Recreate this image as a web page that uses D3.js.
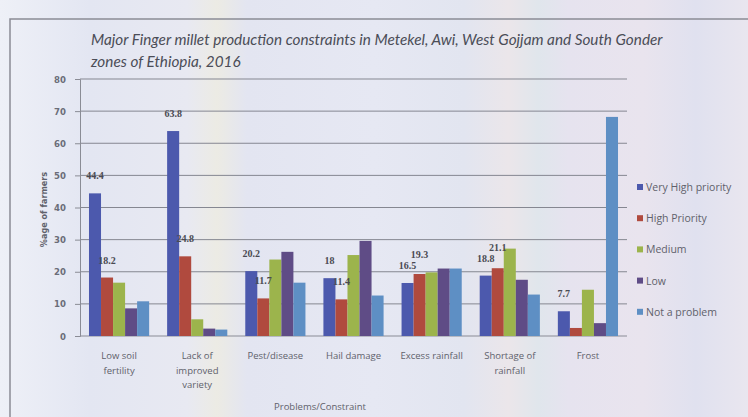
<!DOCTYPE html>
<html>
<head>
<meta charset="utf-8">
<script src="https://cdn.jsdelivr.net/npm/d3@7"></script>
<style>
  body { margin: 0; background: #e6e8f2; }
  svg { display: block; }
</style>
</head>
<body>
<svg id="chart" width="748" height="417"></svg>
<script>
// Categories (problems/constraints), with their wrapped axis labels
const categories = ["Low soil fertility", "Lack of improved variety", "Pest/disease", "Hail damage",
                    "Excess rainfall", "Shortage of rainfall", "Frost"];
const categoryLines = [["Low soil", "fertility"], ["Lack of", "improved", "variety"], ["Pest/disease"],
                       ["Hail damage"], ["Excess rainfall"], ["Shortage of", "rainfall"], ["Frost"]];

// Priority levels (series)
const seriesNames = ["Very High priority", "High Priority", "Medium", "Low", "Not a problem"];
const seriesColors = ["#4c59ad", "#b04a3e", "#9cb44c", "#5f4c86", "#5e8fc4"];

// % of farmers per category for each priority level
const veryHigh   = [44.4, 63.8, 20.2, 18.0, 16.5, 18.8, 7.7];
const high       = [18.2, 24.8, 11.7, 11.4, 19.3, 21.1, 2.5];
const medium     = [16.6, 5.2, 23.8, 25.2, 19.8, 27.2, 14.4];
const low        = [8.6, 2.3, 26.2, 29.6, 21.0, 17.5, 4.0];
const notProblem = [10.8, 2.0, 16.6, 12.6, 21.0, 12.9, 68.2];

// which values carry a printed data label
const veryHighLabelled = [true, true, true, true, true, true, true];
const highLabelled     = [true, true, true, true, true, true, false];

const yTicks = [0, 10, 20, 30, 40, 50, 60, 70, 80];

const titleLines = ["Major Finger millet production constraints in Metekel, Awi, West Gojjam and South Gonder",
                    "zones of Ethiopia, 2016"];
const yTitle = "%age of farmers";
const xTitle = "Problems/Constraint";

const seriesValues = [veryHigh, high, medium, low, notProblem];
const labelFlags = [veryHighLabelled, highLabelled, null, null, null];

const svg = d3.select("#chart");
const W = 748, H = 417;
const plot = { left: 80, right: 627, top: 79, bottom: 336 };

// scanned-paper background with faint vertical streaks
const defs = svg.append("defs");
const bg = defs.append("linearGradient").attr("id", "bg").attr("x1", 0).attr("x2", 1).attr("y1", 0).attr("y2", 0);
[[0, "#eef0f7"], [0.12, "#e3e6f2"], [0.25, "#e8e9f2"], [0.29, "#ecebe4"], [0.33, "#e3e5f1"],
 [0.5, "#e6e8f3"], [0.62, "#e2e5f0"], [0.68, "#ebe6ea"], [0.72, "#e0e6ec"], [0.76, "#e6e3ef"],
 [0.86, "#e9e4ee"], [0.93, "#e0e1ef"], [1, "#e9e6ef"]]
  .forEach(([o, c]) => bg.append("stop").attr("offset", o).attr("stop-color", c));
svg.append("rect").attr("width", W).attr("height", H).attr("fill", "url(#bg)");

// chart frame
svg.append("path")
  .attr("d", `M10,${H} L10,19 L${W},19`)
  .attr("fill", "none").attr("stroke", "#8a8c95").attr("stroke-width", 1.5);

// scales
const x = d3.scaleBand().domain(categories).range([plot.left, plot.right]).padding(0);
const bw = x.bandwidth();
const xs = d3.scaleBand().domain(seriesNames).range([bw * 0.115, bw * 0.885]).padding(0);
const y = d3.scaleLinear().domain([0, 80]).range([plot.bottom, plot.top]);

// gridlines
svg.append("g").selectAll("line").data(yTicks.filter(t => t > 0)).join("line")
  .attr("x1", plot.left).attr("x2", plot.right)
  .attr("y1", d => y(d)).attr("y2", d => y(d))
  .attr("stroke", "#858791").attr("stroke-width", 1);

// y axis
const yAxis = svg.append("g").attr("transform", `translate(${plot.left},0)`)
  .call(d3.axisLeft(y).tickValues(yTicks).tickSize(5).tickPadding(9).tickFormat(d3.format("d")));
yAxis.select(".domain").attr("stroke", "#8a8c95");
yAxis.selectAll(".tick line").attr("stroke", "#8a8c95");
yAxis.selectAll("text").attr("fill", "#6b6d78").style("font-family", "'DejaVu Sans Condensed', 'DejaVu Sans'")
  .style("font-size", "9.5px").style("font-weight", "bold");

// x axis baseline
svg.append("line").attr("x1", plot.left).attr("x2", plot.right)
  .attr("y1", y(0)).attr("y2", y(0)).attr("stroke", "#8a8c95").attr("stroke-width", 1.2);

// bars
const groups = svg.append("g").selectAll("g").data(categories).join("g")
  .attr("transform", d => `translate(${x(d)},0)`);
groups.each(function (cat, ci) {
  const g = d3.select(this);
  seriesNames.forEach((s, si) => {
    const v = seriesValues[si][ci];
    g.append("rect")
      .attr("x", xs(s)).attr("width", xs.bandwidth())
      .attr("y", y(v)).attr("height", y(0) - y(v))
      .attr("fill", seriesColors[si]);
  });
});

// data labels, lifted apart when two labels in a group would collide
groups.each(function (cat, ci) {
  const g = d3.select(this);
  const placed = [];
  seriesNames.forEach((s, si) => {
    const flags = labelFlags[si];
    if (!flags || !flags[ci]) return;
    const v = seriesValues[si][ci];
    const cx = xs(s) + xs.bandwidth() / 2;
    let ly = y(v) - 14;
    placed.forEach(p => {
      if (Math.abs(p.x - cx) < 22 && Math.abs(p.y - ly) < 11) {
        if (ly <= p.y) ly = p.y - 11;
        else { p.node.attr("y", ly - 11); p.y = ly - 11; }
      }
    });
    const node = g.append("text")
      .attr("x", cx).attr("y", ly)
      .attr("text-anchor", "middle")
      .attr("fill", "#4a4a52")
      .style("font-family", "'Liberation Serif', serif")
      .style("font-size", "10px").style("font-weight", "bold")
      .text(d3.format("")(v));
    placed.push({ x: cx, y: ly, node });
  });
});

// category labels
const catLabels = svg.append("g").selectAll("text").data(categories).join("text")
  .attr("x", d => x(d) + bw / 2).attr("y", 359)
  .attr("text-anchor", "middle")
  .attr("fill", "#5f616b")
  .style("font-family", "'Open Sans', sans-serif").style("font-size", "9.5px");
catLabels.each(function (d, i) {
  const t = d3.select(this);
  categoryLines[i].forEach((line, li) => {
    t.append("tspan").attr("x", x(d) + bw / 2).attr("dy", li === 0 ? 0 : 14.5).text(line);
  });
});

// axis titles
svg.append("text")
  .attr("x", 320).attr("y", 410).attr("text-anchor", "middle")
  .attr("fill", "#5f616b")
  .style("font-family", "'Open Sans', sans-serif").style("font-size", "9.5px")
  .text(xTitle);
svg.append("text")
  .attr("transform", `translate(47,${(plot.top + plot.bottom) / 2 + 2}) rotate(-90)`)
  .attr("text-anchor", "middle")
  .attr("fill", "#5f616b")
  .style("font-family", "'DejaVu Sans Condensed', 'DejaVu Sans'").style("font-size", "9px").style("font-weight", "bold")
  .text(yTitle);

// title
svg.append("g").selectAll("text").data(titleLines).join("text")
  .attr("x", 91).attr("y", (d, i) => 45 + i * 22)
  .attr("fill", "#4b4d57")
  .style("font-family", "Lato, 'Open Sans', sans-serif")
  .style("font-size", "15.3px").style("font-style", "italic")
  .text(d => d);

// legend
const legend = svg.append("g").attr("transform", "translate(637,188)");
const items = legend.selectAll("g").data(seriesNames).join("g")
  .attr("transform", (d, i) => `translate(0,${i * 31.2})`);
items.append("rect").attr("x", 0).attr("y", -4).attr("width", 6).attr("height", 6)
  .attr("fill", (d, i) => seriesColors[i]);
items.append("text").attr("x", 9).attr("y", 3)
  .attr("fill", "#5f616b")
  .style("font-family", "'Open Sans', sans-serif").style("font-size", "10.5px")
  .text(d => d);
</script>
</body>
</html>
